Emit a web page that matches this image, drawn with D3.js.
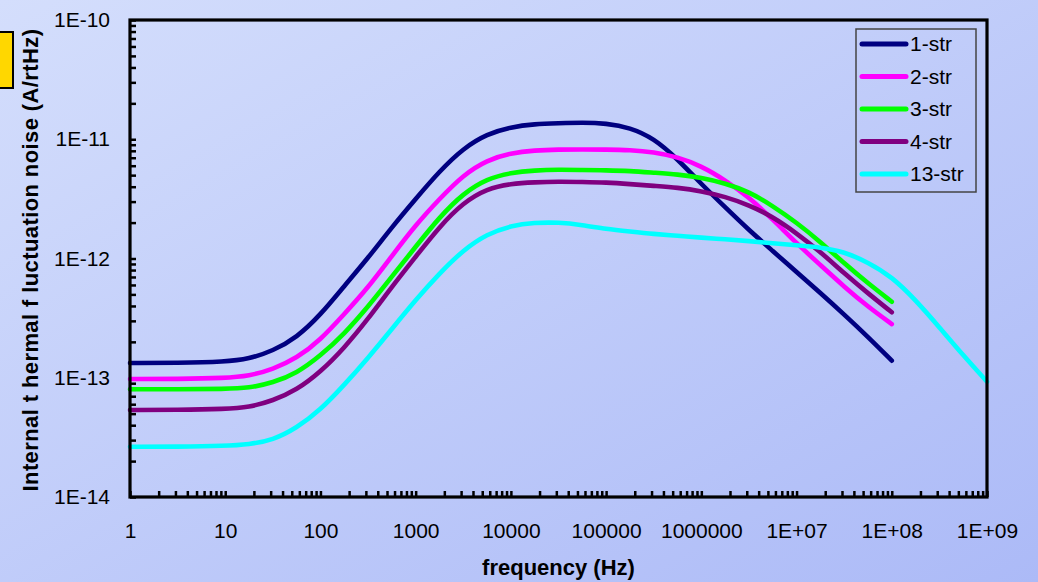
<!DOCTYPE html>
<html>
<head>
<meta charset="utf-8">
<script src="https://cdn.jsdelivr.net/npm/d3@7"></script>
<style>
html,body{margin:0;padding:0;overflow:hidden;}
svg{display:block;}
text{font-family:"Liberation Sans",Arial,sans-serif;fill:#000;}
</style>
</head>
<body>
<svg id="chart" width="1038" height="582"></svg>
<script>
// ---- data ----
const freqs = [1, 3.162, 10, 17.78, 31.62, 56.23, 100, 177.8, 316.2, 562.3, 1000, 1778, 3162, 5623,
  1e4, 1.778e4, 3.162e4, 5.623e4, 1e5, 1.778e5, 3.162e5, 5.623e5, 1e6, 1.778e6, 3.162e6, 5.623e6,
  1e7, 1.778e7, 3.162e7, 5.623e7, 1e8, 1.778e8, 3.162e8, 5.623e8, 1e9];
const str1 = [1.33e-13, 1.33e-13, 1.36e-13, 1.44e-13, 1.68e-13, 2.17e-13, 3.36e-13, 5.88e-13, 1.01e-12, 1.83e-12, 3.16e-12, 5.39e-12, 8.40e-12, 1.107e-11,
  1.267e-11, 1.342e-11, 1.361e-11, 1.38e-11, 1.36e-11, 1.254e-11, 1.019e-11, 6.83e-12, 4.21e-12, 2.69e-12, 1.73e-12, 1.156e-12,
  7.70e-13, 5.14e-13, 3.39e-13, 2.20e-13, 1.39e-13, null, null, null, null];
const str2 = [9.76e-14, 9.76e-14, 9.95e-14, 1.034e-13, 1.177e-13, 1.456e-13, 2.073e-13, 3.42e-13, 5.69e-13, 1.05e-12, 1.91e-12, 3.16e-12, 5.02e-12, 6.70e-12,
  7.67e-12, 8.08e-12, 8.20e-12, 8.22e-12, 8.20e-12, 8.13e-12, 7.82e-12, 7.10e-12, 5.97e-12, 4.55e-12, 3.26e-12, 2.13e-12,
  1.34e-12, 8.82e-13, 5.80e-13, 3.94e-13, 2.82e-13, null, null, null, null];
const str3 = [8.00e-14, 8.00e-14, 8.05e-14, 8.20e-14, 9.09e-14, 1.09e-13, 1.53e-13, 2.33e-13, 3.94e-13, 7.04e-13, 1.256e-12, 2.22e-12, 3.52e-12, 4.67e-12,
  5.24e-12, 5.49e-12, 5.56e-12, 5.52e-12, 5.49e-12, 5.42e-12, 5.24e-12, 5.08e-12, 4.76e-12, 4.27e-12, 3.63e-12, 2.76e-12,
  2.00e-12, 1.38e-12, 9.11e-13, 6.19e-13, 4.34e-13, null, null, null, null];
const str4 = [5.37e-14, 5.37e-14, 5.47e-14, 5.65e-14, 6.42e-14, 7.89e-14, 1.117e-13, 1.776e-13, 3.11e-13, 5.80e-13, 1.035e-12, 1.85e-12, 2.94e-12, 3.85e-12,
  4.24e-12, 4.36e-12, 4.41e-12, 4.38e-12, 4.34e-12, 4.21e-12, 4.06e-12, 3.93e-12, 3.68e-12, 3.30e-12, 2.81e-12, 2.24e-12,
  1.63e-12, 1.14e-12, 7.51e-13, 5.11e-13, 3.54e-13, null, null, null, null];
const str13 = [2.64e-14, 2.64e-14, 2.68e-14, 2.76e-14, 3.00e-14, 3.79e-14, 5.37e-14, 8.70e-14, 1.464e-13, 2.564e-13, 4.49e-13, 7.51e-13, 1.178e-12, 1.605e-12,
  1.884e-12, 2.00e-12, 2.01e-12, 1.91e-12, 1.767e-12, 1.684e-12, 1.605e-12, 1.553e-12, 1.494e-12, 1.449e-12, 1.402e-12, 1.341e-12,
  1.29e-12, 1.241e-12, 1.14e-12, 9.29e-13, 7.04e-13, 4.49e-13, 2.65e-13, 1.54e-13, 9.27e-14];
const seriesNames = ["1-str", "2-str", "3-str", "4-str", "13-str"];
const seriesColors = ["#000080", "#ff00ff", "#00ff00", "#800080", "#00ffff"];
const xTickValues = [1, 10, 100, 1000, 1e4, 1e5, 1e6, 1e7, 1e8, 1e9];
const xTickLabels = ["1", "10", "100", "1000", "10000", "100000", "1000000", "1E+07", "1E+08", "1E+09"];
const yTickValues = [1e-14, 1e-13, 1e-12, 1e-11, 1e-10];
const yTickLabels = ["1E-14", "1E-13", "1E-12", "1E-11", "1E-10"];
const xTitle = "frequency (Hz)";
const yTitle = "Internal t hermal f luctuation noise (A/rtHz)";

const seriesValues = [str1, str2, str3, str4, str13];

// ---- layout ----
const W = 1038, H = 582;
const L = 130, R = 987, T = 20, B = 497;

const svg = d3.select("#chart");
const defs = svg.append("defs");
const grad = defs.append("linearGradient").attr("id", "bg")
  .attr("x1", "0%").attr("y1", "0%").attr("x2", "100%").attr("y2", "100%");
grad.append("stop").attr("offset", "0%").attr("stop-color", "#d4defc");
grad.append("stop").attr("offset", "100%").attr("stop-color", "#acbaf7");

svg.append("rect").attr("width", W).attr("height", H).attr("fill", "url(#bg)");

const x = d3.scaleLog().domain([1, 1e9]).range([L, R]);
const y = d3.scaleLog().domain([1e-14, 1e-10]).range([B, T]);

// minor + major ticks (inward)
const minorX = [];
for (let e = 0; e < 9; e++) for (let m = 1; m <= 9; m++) minorX.push(m * Math.pow(10, e));
minorX.push(1e9);
const minorY = [];
for (let e = -14; e < -10; e++) for (let m = 1; m <= 9; m++) minorY.push(m * Math.pow(10, e));
minorY.push(1e-10);

const gxm = svg.append("g").attr("transform", `translate(0,${B})`)
  .call(d3.axisBottom(x).tickValues(minorX).tickSize(-6).tickFormat(""));
gxm.select(".domain").remove();
gxm.selectAll("line").attr("stroke", "#000").attr("stroke-width", 2.5);

const gym = svg.append("g").attr("transform", `translate(${L},0)`)
  .call(d3.axisLeft(y).tickValues(minorY).tickSize(-6).tickFormat(""));
gym.select(".domain").remove();
gym.selectAll("line").attr("stroke", "#000").attr("stroke-width", 2.5);

// tick labels
const gx = svg.append("g").attr("transform", `translate(0,${B})`)
  .call(d3.axisBottom(x).tickValues(xTickValues).tickSize(0).tickPadding(26)
    .tickFormat((d, i) => xTickLabels[i]));
gx.select(".domain").remove();
gx.selectAll("text").attr("font-size", 21).attr("font-family", "Liberation Sans, Arial, sans-serif").attr("fill", "#000");

const gy = svg.append("g").attr("transform", `translate(${L},0)`)
  .call(d3.axisLeft(y).tickValues(yTickValues).tickSize(0).tickPadding(20)
    .tickFormat((d, i) => yTickLabels[i]));
gy.select(".domain").remove();
gy.selectAll("text").attr("font-size", 21).attr("font-family", "Liberation Sans, Arial, sans-serif").attr("fill", "#000");

// series (smooth B-spline through the read samples)
const line = d3.line()
  .defined(d => d[1] != null)
  .x(d => x(d[0])).y(d => y(d[1]))
  .curve(d3.curveBasis);

seriesValues.forEach((vals, i) => {
  const pts = freqs.map((f, j) => [f, vals[j]]);
  svg.append("path").datum(pts)
    .attr("d", line)
    .attr("fill", "none")
    .attr("stroke", seriesColors[i])
    .attr("stroke-width", 4.6)
    .attr("stroke-linecap", "round")
    .attr("stroke-linejoin", "round");
});

// plot frame
svg.append("rect").attr("x", L).attr("y", T).attr("width", R - L).attr("height", B - T)
  .attr("fill", "none").attr("stroke", "#000").attr("stroke-width", 3.2);

// legend
const lg = svg.append("g");
lg.append("rect").attr("x", 856).attr("y", 29).attr("width", 120).attr("height", 163)
  .attr("fill", "none").attr("stroke", "#444").attr("stroke-width", 1.5);
seriesNames.forEach((n, i) => {
  const yy = 44 + i * 32.5;
  lg.append("line").attr("x1", 862).attr("x2", 906).attr("y1", yy).attr("y2", yy)
    .attr("stroke", seriesColors[i]).attr("stroke-width", 5).attr("stroke-linecap", "round");
  lg.append("text").attr("x", 910).attr("y", yy).attr("dy", "0.35em")
    .attr("font-size", 21).text(n);
});

// axis titles
svg.append("text").attr("x", (L + R) / 2).attr("y", 575).attr("text-anchor", "middle")
  .attr("font-size", 22).attr("font-weight", "bold").text(xTitle);
svg.append("text").attr("transform", "translate(38,260) rotate(-90)").attr("text-anchor", "middle")
  .attr("font-size", 22).attr("font-weight", "bold").attr("letter-spacing", "0.4px").text(yTitle);

// yellow marker box at left edge
svg.append("rect").attr("x", -3).attr("y", 32).attr("width", 16).attr("height", 56)
  .attr("fill", "#ffd700").attr("stroke", "#000").attr("stroke-width", 2);
</script>
</body>
</html>
